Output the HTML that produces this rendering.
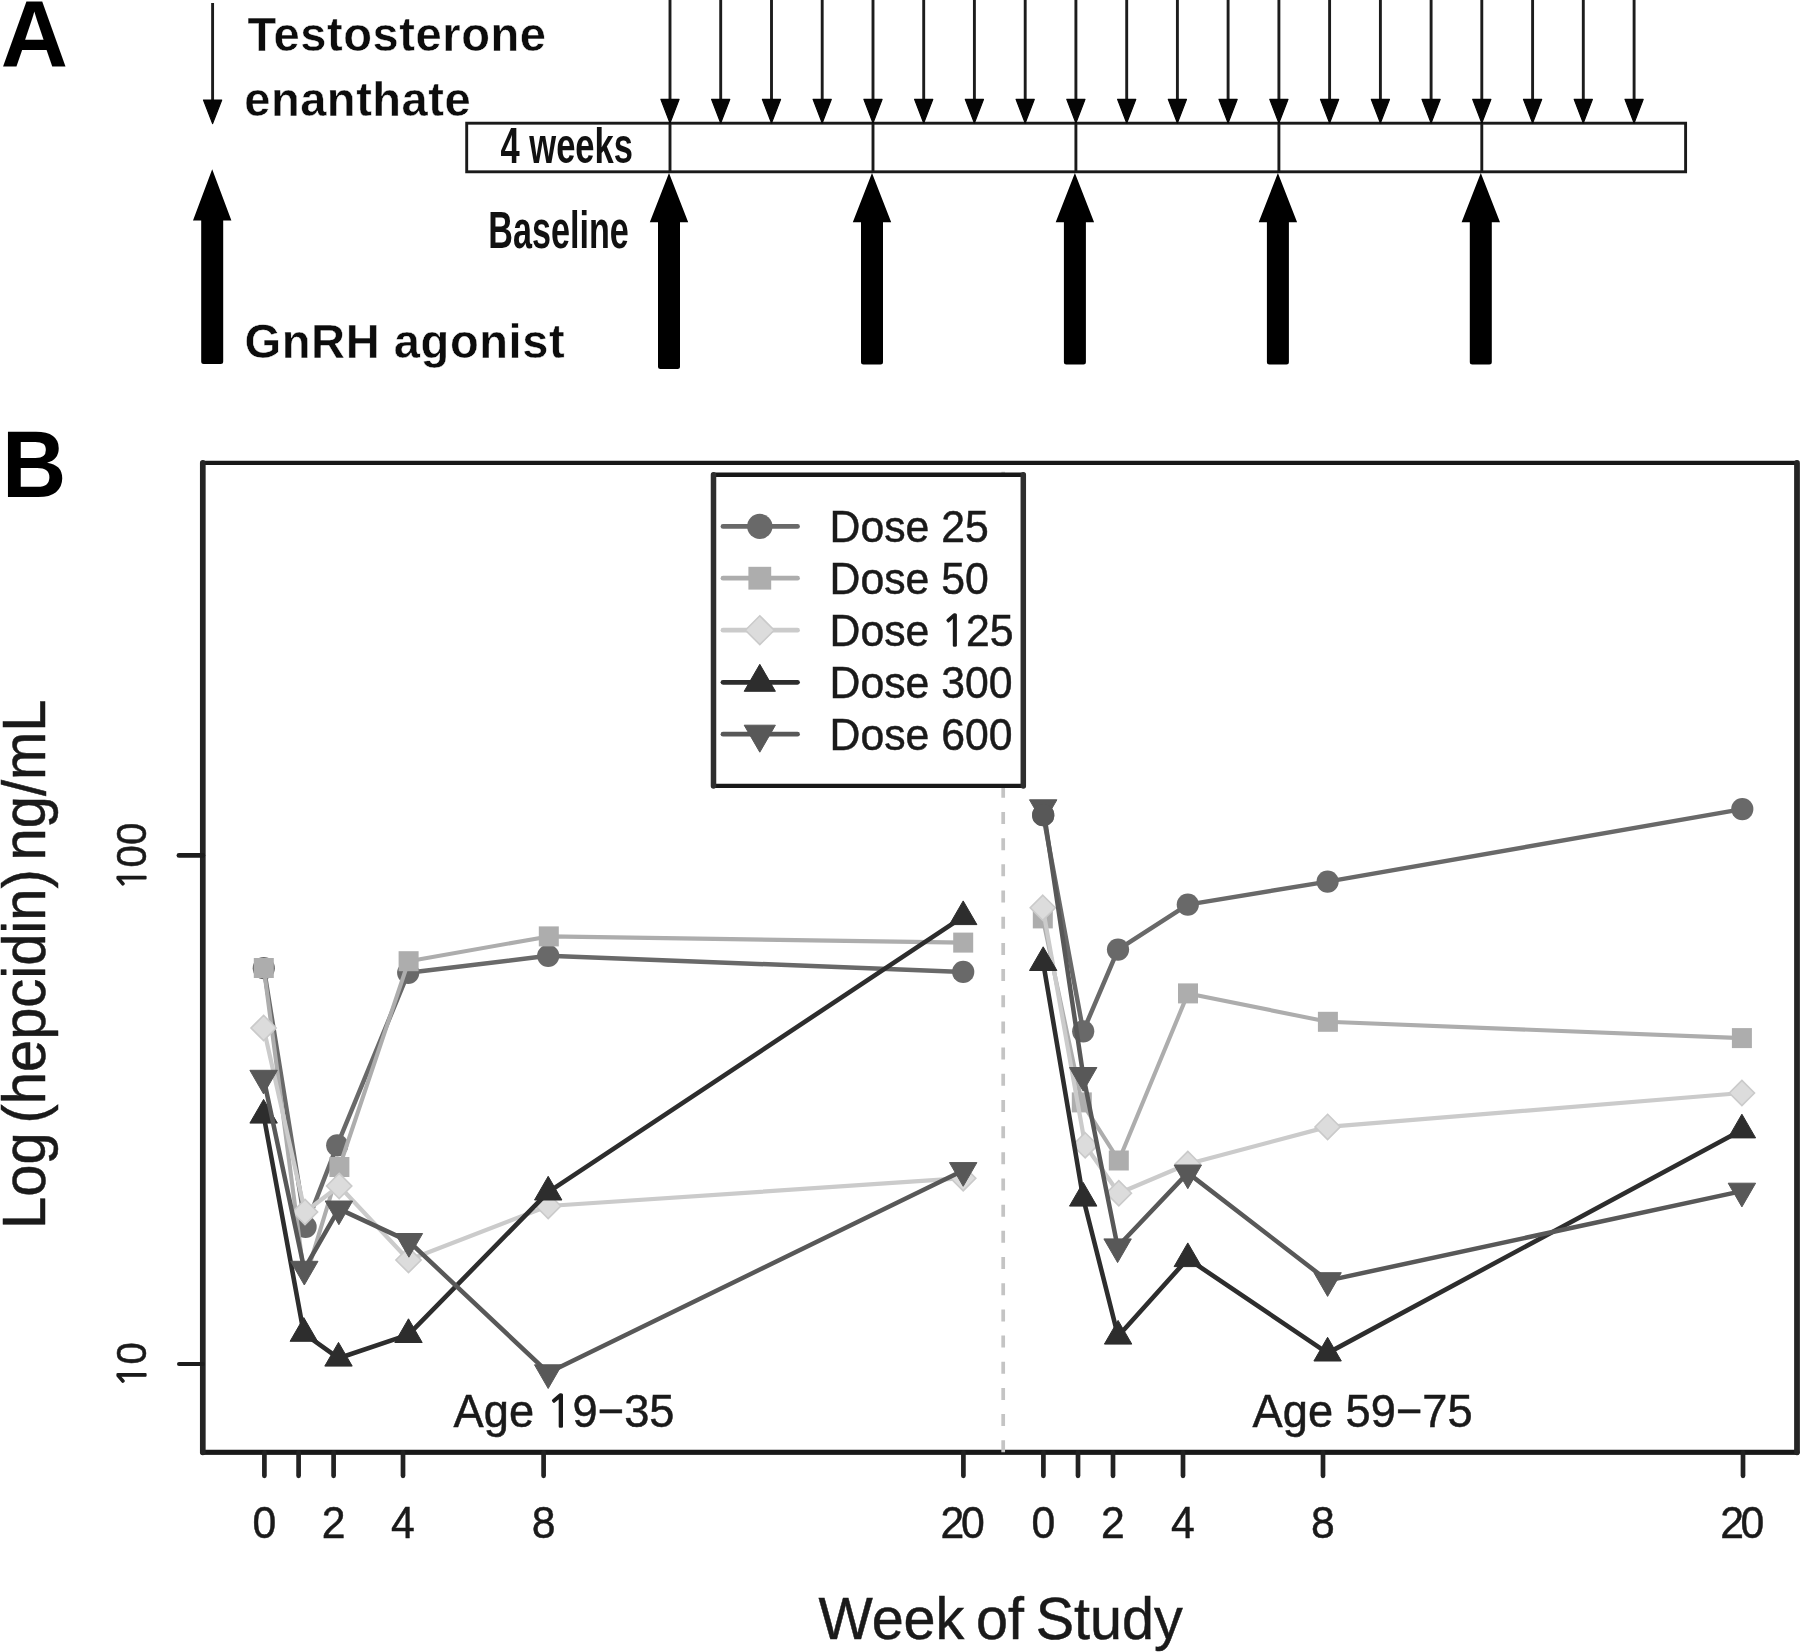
<!DOCTYPE html>
<html lang="en">
<head>
<meta charset="utf-8">
<title>Figure: study design and hepcidin by testosterone dose</title>
<style>
html,body{margin:0;padding:0;background:#fff;}
body{width:1800px;height:1652px;overflow:hidden;}
svg{display:block;filter:grayscale(1);}
</style>
</head>
<body>
<svg width="1800" height="1652" viewBox="0 0 1800 1652">
<rect width="1800" height="1652" fill="#fff"/>
<g id="panelA">
<rect x="466.7" y="123.2" width="1218.9" height="48.6" fill="#fff" stroke="#1a1a1a" stroke-width="2.9"/>
<line x1="670.0" y1="123.2" x2="670.0" y2="171.8" stroke="#1a1a1a" stroke-width="2.9"/>
<line x1="873.0" y1="123.2" x2="873.0" y2="171.8" stroke="#1a1a1a" stroke-width="2.9"/>
<line x1="1075.9" y1="123.2" x2="1075.9" y2="171.8" stroke="#1a1a1a" stroke-width="2.9"/>
<line x1="1278.9" y1="123.2" x2="1278.9" y2="171.8" stroke="#1a1a1a" stroke-width="2.9"/>
<line x1="1481.8" y1="123.2" x2="1481.8" y2="171.8" stroke="#1a1a1a" stroke-width="2.9"/>
<line x1="212.6" y1="3" x2="212.6" y2="102.0" stroke="#1c1c1c" stroke-width="2.9"/><polygon points="203.5,100.0 221.7,100.0 212.6,123.6" fill="#050505" stroke="#050505" stroke-width="1.2" stroke-linejoin="round"/>
<line x1="670.0" y1="0" x2="670.0" y2="101.4" stroke="#1c1c1c" stroke-width="2.9"/><polygon points="660.9,99.4 679.1,99.4 670.0,123.0" fill="#050505" stroke="#050505" stroke-width="1.2" stroke-linejoin="round"/>
<line x1="720.7" y1="0" x2="720.7" y2="101.4" stroke="#1c1c1c" stroke-width="2.9"/><polygon points="711.6,99.4 729.8,99.4 720.7,123.0" fill="#050505" stroke="#050505" stroke-width="1.2" stroke-linejoin="round"/>
<line x1="771.5" y1="0" x2="771.5" y2="101.4" stroke="#1c1c1c" stroke-width="2.9"/><polygon points="762.4,99.4 780.6,99.4 771.5,123.0" fill="#050505" stroke="#050505" stroke-width="1.2" stroke-linejoin="round"/>
<line x1="822.2" y1="0" x2="822.2" y2="101.4" stroke="#1c1c1c" stroke-width="2.9"/><polygon points="813.1,99.4 831.3,99.4 822.2,123.0" fill="#050505" stroke="#050505" stroke-width="1.2" stroke-linejoin="round"/>
<line x1="873.0" y1="0" x2="873.0" y2="101.4" stroke="#1c1c1c" stroke-width="2.9"/><polygon points="863.9,99.4 882.1,99.4 873.0,123.0" fill="#050505" stroke="#050505" stroke-width="1.2" stroke-linejoin="round"/>
<line x1="923.7" y1="0" x2="923.7" y2="101.4" stroke="#1c1c1c" stroke-width="2.9"/><polygon points="914.6,99.4 932.8,99.4 923.7,123.0" fill="#050505" stroke="#050505" stroke-width="1.2" stroke-linejoin="round"/>
<line x1="974.4" y1="0" x2="974.4" y2="101.4" stroke="#1c1c1c" stroke-width="2.9"/><polygon points="965.3,99.4 983.5,99.4 974.4,123.0" fill="#050505" stroke="#050505" stroke-width="1.2" stroke-linejoin="round"/>
<line x1="1025.2" y1="0" x2="1025.2" y2="101.4" stroke="#1c1c1c" stroke-width="2.9"/><polygon points="1016.1,99.4 1034.3,99.4 1025.2,123.0" fill="#050505" stroke="#050505" stroke-width="1.2" stroke-linejoin="round"/>
<line x1="1075.9" y1="0" x2="1075.9" y2="101.4" stroke="#1c1c1c" stroke-width="2.9"/><polygon points="1066.8,99.4 1085.0,99.4 1075.9,123.0" fill="#050505" stroke="#050505" stroke-width="1.2" stroke-linejoin="round"/>
<line x1="1126.7" y1="0" x2="1126.7" y2="101.4" stroke="#1c1c1c" stroke-width="2.9"/><polygon points="1117.6,99.4 1135.8,99.4 1126.7,123.0" fill="#050505" stroke="#050505" stroke-width="1.2" stroke-linejoin="round"/>
<line x1="1177.4" y1="0" x2="1177.4" y2="101.4" stroke="#1c1c1c" stroke-width="2.9"/><polygon points="1168.3,99.4 1186.5,99.4 1177.4,123.0" fill="#050505" stroke="#050505" stroke-width="1.2" stroke-linejoin="round"/>
<line x1="1228.1" y1="0" x2="1228.1" y2="101.4" stroke="#1c1c1c" stroke-width="2.9"/><polygon points="1219.0,99.4 1237.2,99.4 1228.1,123.0" fill="#050505" stroke="#050505" stroke-width="1.2" stroke-linejoin="round"/>
<line x1="1278.9" y1="0" x2="1278.9" y2="101.4" stroke="#1c1c1c" stroke-width="2.9"/><polygon points="1269.8,99.4 1288.0,99.4 1278.9,123.0" fill="#050505" stroke="#050505" stroke-width="1.2" stroke-linejoin="round"/>
<line x1="1329.6" y1="0" x2="1329.6" y2="101.4" stroke="#1c1c1c" stroke-width="2.9"/><polygon points="1320.5,99.4 1338.7,99.4 1329.6,123.0" fill="#050505" stroke="#050505" stroke-width="1.2" stroke-linejoin="round"/>
<line x1="1380.4" y1="0" x2="1380.4" y2="101.4" stroke="#1c1c1c" stroke-width="2.9"/><polygon points="1371.3,99.4 1389.5,99.4 1380.4,123.0" fill="#050505" stroke="#050505" stroke-width="1.2" stroke-linejoin="round"/>
<line x1="1431.1" y1="0" x2="1431.1" y2="101.4" stroke="#1c1c1c" stroke-width="2.9"/><polygon points="1422.0,99.4 1440.2,99.4 1431.1,123.0" fill="#050505" stroke="#050505" stroke-width="1.2" stroke-linejoin="round"/>
<line x1="1481.8" y1="0" x2="1481.8" y2="101.4" stroke="#1c1c1c" stroke-width="2.9"/><polygon points="1472.7,99.4 1490.9,99.4 1481.8,123.0" fill="#050505" stroke="#050505" stroke-width="1.2" stroke-linejoin="round"/>
<line x1="1532.6" y1="0" x2="1532.6" y2="101.4" stroke="#1c1c1c" stroke-width="2.9"/><polygon points="1523.5,99.4 1541.7,99.4 1532.6,123.0" fill="#050505" stroke="#050505" stroke-width="1.2" stroke-linejoin="round"/>
<line x1="1583.3" y1="0" x2="1583.3" y2="101.4" stroke="#1c1c1c" stroke-width="2.9"/><polygon points="1574.2,99.4 1592.4,99.4 1583.3,123.0" fill="#050505" stroke="#050505" stroke-width="1.2" stroke-linejoin="round"/>
<line x1="1634.1" y1="0" x2="1634.1" y2="101.4" stroke="#1c1c1c" stroke-width="2.9"/><polygon points="1625.0,99.4 1643.2,99.4 1634.1,123.0" fill="#050505" stroke="#050505" stroke-width="1.2" stroke-linejoin="round"/>
<path d="M212.2,169.3 L231.4,220.5 L223.2,220.5 L223.2,361.5 Q223.2,364.0 220.7,364.0 L203.7,364.0 Q201.2,364.0 201.2,361.5 L201.2,220.5 L193.0,220.5 Z" fill="#000"/>
<path d="M669.0,173.0 L688.2,222.3 L680.0,222.3 L680.0,366.5 Q680.0,369.0 677.5,369.0 L660.5,369.0 Q658.0,369.0 658.0,366.5 L658.0,222.3 L649.8,222.3 Z" fill="#000"/>
<path d="M872.0,173.0 L891.2,222.3 L883.0,222.3 L883.0,362.0 Q883.0,364.5 880.5,364.5 L863.5,364.5 Q861.0,364.5 861.0,362.0 L861.0,222.3 L852.8,222.3 Z" fill="#000"/>
<path d="M1074.9,173.0 L1094.1,222.3 L1085.9,222.3 L1085.9,362.0 Q1085.9,364.5 1083.4,364.5 L1066.4,364.5 Q1063.9,364.5 1063.9,362.0 L1063.9,222.3 L1055.7,222.3 Z" fill="#000"/>
<path d="M1277.9,173.0 L1297.1,222.3 L1288.9,222.3 L1288.9,362.0 Q1288.9,364.5 1286.4,364.5 L1269.4,364.5 Q1266.9,364.5 1266.9,362.0 L1266.9,222.3 L1258.7,222.3 Z" fill="#000"/>
<path d="M1480.8,173.0 L1500.0,222.3 L1491.8,222.3 L1491.8,362.0 Q1491.8,364.5 1489.3,364.5 L1472.3,364.5 Q1469.8,364.5 1469.8,362.0 L1469.8,222.3 L1461.6,222.3 Z" fill="#000"/>
</g>
<g id="panelB">
<polyline points="263.8,968.2 305.6,1226.8 337.2,1145.3 408.2,972.8 548.2,955.8 963.2,971.9" fill="none" stroke="#696969" stroke-width="4.5" stroke-linejoin="round" stroke-linecap="round"/>
<circle cx="263.8" cy="968.2" r="11.10" fill="#696969"/>
<circle cx="305.6" cy="1226.8" r="11.10" fill="#696969"/>
<circle cx="337.2" cy="1145.3" r="11.10" fill="#696969"/>
<circle cx="408.2" cy="972.8" r="11.10" fill="#696969"/>
<circle cx="548.2" cy="955.8" r="11.10" fill="#696969"/>
<circle cx="963.2" cy="971.9" r="11.10" fill="#696969"/>
<polyline points="1043.2,815.2 1083.2,1031.3 1118.0,949.6 1187.8,904.6 1327.6,881.6 1742.3,809.1" fill="none" stroke="#696969" stroke-width="4.5" stroke-linejoin="round" stroke-linecap="round"/>
<circle cx="1043.2" cy="815.2" r="11.10" fill="#696969"/>
<circle cx="1083.2" cy="1031.3" r="11.10" fill="#696969"/>
<circle cx="1118.0" cy="949.6" r="11.10" fill="#696969"/>
<circle cx="1187.8" cy="904.6" r="11.10" fill="#696969"/>
<circle cx="1327.6" cy="881.6" r="11.10" fill="#696969"/>
<circle cx="1742.3" cy="809.1" r="11.10" fill="#696969"/>
<polyline points="263.8,968.0 304.8,1280.5 339.4,1167.0 408.6,961.2 548.8,936.4 963.2,942.6" fill="none" stroke="#adadad" stroke-width="4.1" stroke-linejoin="round" stroke-linecap="round"/>
<rect x="253.8" y="958.0" width="20.0" height="20.0" fill="#adadad"/>
<rect x="329.4" y="1157.0" width="20.0" height="20.0" fill="#adadad"/>
<rect x="398.6" y="951.2" width="20.0" height="20.0" fill="#adadad"/>
<rect x="538.8" y="926.4" width="20.0" height="20.0" fill="#adadad"/>
<rect x="953.2" y="932.6" width="20.0" height="20.0" fill="#adadad"/>
<polyline points="1042.8,918.4 1081.8,1102.4 1118.8,1160.5 1188.0,993.4 1327.9,1021.8 1741.9,1038.1" fill="none" stroke="#adadad" stroke-width="4.1" stroke-linejoin="round" stroke-linecap="round"/>
<rect x="1032.8" y="908.4" width="20.0" height="20.0" fill="#adadad"/>
<rect x="1071.8" y="1092.4" width="20.0" height="20.0" fill="#adadad"/>
<rect x="1108.8" y="1150.5" width="20.0" height="20.0" fill="#adadad"/>
<rect x="1178.0" y="983.4" width="20.0" height="20.0" fill="#adadad"/>
<rect x="1317.9" y="1011.8" width="20.0" height="20.0" fill="#adadad"/>
<rect x="1731.9" y="1028.1" width="20.0" height="20.0" fill="#adadad"/>
<polyline points="263.6,1028.0 305.0,1212.0 339.2,1186.0 408.5,1260.0 548.2,1206.0 963.2,1178.2" fill="none" stroke="#cbcbcb" stroke-width="4.2" stroke-linejoin="round" stroke-linecap="round"/>
<polygon points="263.6,1015.4 276.2,1028.0 263.6,1040.6 251.0,1028.0" fill="#dcdcdc" stroke="#cacaca" stroke-width="1.6"/>
<polygon points="305.0,1199.4 317.6,1212.0 305.0,1224.6 292.4,1212.0" fill="#dcdcdc" stroke="#cacaca" stroke-width="1.6"/>
<polygon points="339.2,1173.4 351.8,1186.0 339.2,1198.6 326.6,1186.0" fill="#dcdcdc" stroke="#cacaca" stroke-width="1.6"/>
<polygon points="408.5,1247.4 421.1,1260.0 408.5,1272.6 395.9,1260.0" fill="#dcdcdc" stroke="#cacaca" stroke-width="1.6"/>
<polygon points="548.2,1193.4 560.8,1206.0 548.2,1218.6 535.6,1206.0" fill="#dcdcdc" stroke="#cacaca" stroke-width="1.6"/>
<polygon points="963.2,1165.6 975.8,1178.2 963.2,1190.8 950.6,1178.2" fill="#dcdcdc" stroke="#cacaca" stroke-width="1.6"/>
<polyline points="1042.8,907.8 1085.2,1145.3 1118.8,1193.2 1187.8,1164.0 1327.6,1126.9 1741.9,1093.0" fill="none" stroke="#cbcbcb" stroke-width="4.2" stroke-linejoin="round" stroke-linecap="round"/>
<polygon points="1042.8,895.2 1055.4,907.8 1042.8,920.4 1030.2,907.8" fill="#dcdcdc" stroke="#cacaca" stroke-width="1.6"/>
<polygon points="1085.2,1132.7 1097.8,1145.3 1085.2,1157.9 1072.6,1145.3" fill="#dcdcdc" stroke="#cacaca" stroke-width="1.6"/>
<polygon points="1118.8,1180.6 1131.4,1193.2 1118.8,1205.8 1106.2,1193.2" fill="#dcdcdc" stroke="#cacaca" stroke-width="1.6"/>
<polygon points="1187.8,1151.4 1200.4,1164.0 1187.8,1176.6 1175.2,1164.0" fill="#dcdcdc" stroke="#cacaca" stroke-width="1.6"/>
<polygon points="1327.6,1114.3 1340.2,1126.9 1327.6,1139.5 1315.0,1126.9" fill="#dcdcdc" stroke="#cacaca" stroke-width="1.6"/>
<polygon points="1741.9,1080.4 1754.5,1093.0 1741.9,1105.6 1729.3,1093.0" fill="#dcdcdc" stroke="#cacaca" stroke-width="1.6"/>
<polyline points="263.6,1115.2 303.8,1333.4 338.5,1358.2 408.5,1334.6 548.2,1192.1 963.2,916.7" fill="none" stroke="#2d2d2d" stroke-width="4.6" stroke-linejoin="round" stroke-linecap="round"/>
<polygon points="263.6,1099.4 277.3,1123.1 249.9,1123.1" fill="#2d2d2d" stroke="#2d2d2d" stroke-width="1" stroke-linejoin="round"/>
<polygon points="303.8,1317.6 317.5,1341.3 290.1,1341.3" fill="#2d2d2d" stroke="#2d2d2d" stroke-width="1" stroke-linejoin="round"/>
<polygon points="338.5,1342.4 352.2,1366.1 324.8,1366.1" fill="#2d2d2d" stroke="#2d2d2d" stroke-width="1" stroke-linejoin="round"/>
<polygon points="408.5,1318.8 422.2,1342.5 394.8,1342.5" fill="#2d2d2d" stroke="#2d2d2d" stroke-width="1" stroke-linejoin="round"/>
<polygon points="548.2,1176.3 561.9,1200.0 534.5,1200.0" fill="#2d2d2d" stroke="#2d2d2d" stroke-width="1" stroke-linejoin="round"/>
<polygon points="963.2,900.9 976.9,924.6 949.5,924.6" fill="#2d2d2d" stroke="#2d2d2d" stroke-width="1" stroke-linejoin="round"/>
<polyline points="1043.2,962.6 1083.2,1198.2 1118.1,1336.2 1187.8,1258.7 1327.6,1353.1 1741.9,1130.0" fill="none" stroke="#2d2d2d" stroke-width="4.6" stroke-linejoin="round" stroke-linecap="round"/>
<polygon points="1043.2,946.8 1056.9,970.5 1029.5,970.5" fill="#2d2d2d" stroke="#2d2d2d" stroke-width="1" stroke-linejoin="round"/>
<polygon points="1083.2,1182.4 1096.9,1206.1 1069.5,1206.1" fill="#2d2d2d" stroke="#2d2d2d" stroke-width="1" stroke-linejoin="round"/>
<polygon points="1118.1,1320.4 1131.8,1344.1 1104.4,1344.1" fill="#2d2d2d" stroke="#2d2d2d" stroke-width="1" stroke-linejoin="round"/>
<polygon points="1187.8,1242.9 1201.5,1266.6 1174.1,1266.6" fill="#2d2d2d" stroke="#2d2d2d" stroke-width="1" stroke-linejoin="round"/>
<polygon points="1327.6,1337.3 1341.3,1361.0 1313.9,1361.0" fill="#2d2d2d" stroke="#2d2d2d" stroke-width="1" stroke-linejoin="round"/>
<polygon points="1741.9,1114.2 1755.6,1137.9 1728.2,1137.9" fill="#2d2d2d" stroke="#2d2d2d" stroke-width="1" stroke-linejoin="round"/>
<polyline points="263.6,1078.2 304.3,1269.2 338.9,1208.9 408.9,1241.4 548.2,1372.7 963.2,1170.5" fill="none" stroke="#585858" stroke-width="4.5" stroke-linejoin="round" stroke-linecap="round"/>
<polygon points="263.6,1094.0 277.3,1070.3 249.9,1070.3" fill="#585858" stroke="#585858" stroke-width="1" stroke-linejoin="round"/>
<polygon points="304.3,1285.0 318.0,1261.3 290.6,1261.3" fill="#585858" stroke="#585858" stroke-width="1" stroke-linejoin="round"/>
<polygon points="338.9,1224.7 352.6,1201.0 325.2,1201.0" fill="#585858" stroke="#585858" stroke-width="1" stroke-linejoin="round"/>
<polygon points="408.9,1257.2 422.6,1233.5 395.2,1233.5" fill="#585858" stroke="#585858" stroke-width="1" stroke-linejoin="round"/>
<polygon points="548.2,1388.5 561.9,1364.8 534.5,1364.8" fill="#585858" stroke="#585858" stroke-width="1" stroke-linejoin="round"/>
<polygon points="963.2,1186.3 976.9,1162.6 949.5,1162.6" fill="#585858" stroke="#585858" stroke-width="1" stroke-linejoin="round"/>
<polyline points="1043.2,807.7 1083.2,1075.4 1117.6,1246.8 1187.8,1172.9 1327.6,1280.6 1741.9,1191.1" fill="none" stroke="#585858" stroke-width="4.5" stroke-linejoin="round" stroke-linecap="round"/>
<polygon points="1043.2,823.5 1056.9,799.8 1029.5,799.8" fill="#585858" stroke="#585858" stroke-width="1" stroke-linejoin="round"/>
<polygon points="1083.2,1091.2 1096.9,1067.5 1069.5,1067.5" fill="#585858" stroke="#585858" stroke-width="1" stroke-linejoin="round"/>
<polygon points="1117.6,1262.6 1131.3,1238.9 1103.9,1238.9" fill="#585858" stroke="#585858" stroke-width="1" stroke-linejoin="round"/>
<polygon points="1187.8,1188.7 1201.5,1165.0 1174.1,1165.0" fill="#585858" stroke="#585858" stroke-width="1" stroke-linejoin="round"/>
<polygon points="1327.6,1296.4 1341.3,1272.7 1313.9,1272.7" fill="#585858" stroke="#585858" stroke-width="1" stroke-linejoin="round"/>
<polygon points="1741.9,1206.9 1755.6,1183.2 1728.2,1183.2" fill="#585858" stroke="#585858" stroke-width="1" stroke-linejoin="round"/>
<circle cx="1043.2" cy="815.2" r="11.1" fill="#585858"/>
<rect x="202.8" y="462.9" width="1594.2" height="989.4" fill="none" stroke="#181818" stroke-width="4.4" stroke-linejoin="round"/>
<line x1="202.8" y1="1452.3" x2="1797.0" y2="1452.3" stroke="#181818" stroke-width="5.1" stroke-linecap="round"/>
<line x1="202.8" y1="462.9" x2="202.8" y2="1452.3" stroke="#242424" stroke-width="5.7" stroke-linecap="round"/>
<line x1="1797.0" y1="462.9" x2="1797.0" y2="1452.3" stroke="#242424" stroke-width="5.7" stroke-linecap="round"/>
<line x1="1003.2" y1="1452.3" x2="1003.2" y2="465.9" stroke="#c4c4c4" stroke-width="3.7" stroke-dasharray="12 14.18"/>
<line x1="264.4" y1="1452.3" x2="264.4" y2="1475.8" stroke="#222" stroke-width="4.7" stroke-linecap="round"/>
<line x1="298.6" y1="1452.3" x2="298.6" y2="1475.8" stroke="#222" stroke-width="4.7" stroke-linecap="round"/>
<line x1="333.6" y1="1452.3" x2="333.6" y2="1475.8" stroke="#222" stroke-width="4.7" stroke-linecap="round"/>
<line x1="403.0" y1="1452.3" x2="403.0" y2="1475.8" stroke="#222" stroke-width="4.7" stroke-linecap="round"/>
<line x1="543.6" y1="1452.3" x2="543.6" y2="1475.8" stroke="#222" stroke-width="4.7" stroke-linecap="round"/>
<line x1="963.4" y1="1452.3" x2="963.4" y2="1475.8" stroke="#222" stroke-width="4.7" stroke-linecap="round"/>
<line x1="1043.4" y1="1452.3" x2="1043.4" y2="1475.8" stroke="#222" stroke-width="4.7" stroke-linecap="round"/>
<line x1="1078.0" y1="1452.3" x2="1078.0" y2="1475.8" stroke="#222" stroke-width="4.7" stroke-linecap="round"/>
<line x1="1113.0" y1="1452.3" x2="1113.0" y2="1475.8" stroke="#222" stroke-width="4.7" stroke-linecap="round"/>
<line x1="1183.0" y1="1452.3" x2="1183.0" y2="1475.8" stroke="#222" stroke-width="4.7" stroke-linecap="round"/>
<line x1="1323.0" y1="1452.3" x2="1323.0" y2="1475.8" stroke="#222" stroke-width="4.7" stroke-linecap="round"/>
<line x1="1743.0" y1="1452.3" x2="1743.0" y2="1475.8" stroke="#222" stroke-width="4.7" stroke-linecap="round"/>
<line x1="179.0" y1="855.4" x2="202.8" y2="855.4" stroke="#1c1c1c" stroke-width="4.9" stroke-linecap="round"/>
<line x1="179.0" y1="1364.0" x2="202.8" y2="1364.0" stroke="#1c1c1c" stroke-width="4.0" stroke-linecap="round"/>
<rect x="713.5" y="474.8" width="309.8" height="311.1" fill="#fff" stroke="#181818" stroke-width="4.4" stroke-linejoin="round"/>
<line x1="713.5" y1="474.8" x2="713.5" y2="785.9" stroke="#2e2e2e" stroke-width="5.5" stroke-linecap="round"/>
<line x1="1023.3" y1="474.8" x2="1023.3" y2="785.9" stroke="#2e2e2e" stroke-width="5.5" stroke-linecap="round"/>
<line x1="723.0" y1="526.4" x2="797.5" y2="526.4" stroke="#696969" stroke-width="4.8" stroke-linecap="round"/>
<circle cx="759.8" cy="526.4" r="12.65" fill="#696969"/>
<line x1="723.0" y1="578.2" x2="797.5" y2="578.2" stroke="#adadad" stroke-width="4.8" stroke-linecap="round"/>
<rect x="748.4" y="566.8" width="22.8" height="22.8" fill="#adadad"/>
<line x1="723.0" y1="630.2" x2="797.5" y2="630.2" stroke="#cbcbcb" stroke-width="4.8" stroke-linecap="round"/>
<polygon points="759.8,615.8 774.2,630.2 759.8,644.6 745.4,630.2" fill="#dcdcdc" stroke="#cacaca" stroke-width="1.6"/>
<line x1="723.0" y1="682.3" x2="797.5" y2="682.3" stroke="#2d2d2d" stroke-width="4.8" stroke-linecap="round"/>
<polygon points="759.8,664.3 775.4,691.3 744.2,691.3" fill="#2d2d2d" stroke="#2d2d2d" stroke-width="1" stroke-linejoin="round"/>
<line x1="723.0" y1="734.2" x2="797.5" y2="734.2" stroke="#585858" stroke-width="4.8" stroke-linecap="round"/>
<polygon points="759.8,752.2 775.4,725.2 744.2,725.2" fill="#585858" stroke="#585858" stroke-width="1" stroke-linejoin="round"/>
</g>
<g style="font-family:'Liberation Sans',Arial,Helvetica,sans-serif" fill="#000">
<text transform="translate(0.8,66.7) scale(0.99,1)" font-size="94" font-weight="700">A</text>
<text transform="translate(1.9,496.6) scale(0.947,1)" font-size="94" font-weight="700">B</text>
<text transform="translate(247.6,50.6) scale(0.965,1)" font-size="48.8" font-weight="700" textLength="309.3" lengthAdjust="spacing" fill="#0c0c0c" stroke="#fff" stroke-width="0.45">Testosterone</text>
<text transform="translate(244.2,115.6) scale(0.965,1)" font-size="48.8" font-weight="700" textLength="234.7" lengthAdjust="spacing" fill="#0c0c0c" stroke="#fff" stroke-width="0.45">enanthate</text>
<text transform="translate(244.6,358.1) scale(0.965,1)" font-size="48.8" font-weight="700" textLength="331.6" lengthAdjust="spacing" fill="#0c0c0c" stroke="#fff" stroke-width="0.45">GnRH agonist</text>
<text x="500.5" y="163.3" font-size="49.5" font-weight="700" textLength="132.5" lengthAdjust="spacingAndGlyphs" fill="#111">4 weeks</text>
<text x="488.3" y="247.7" font-size="51" font-weight="700" textLength="140.5" lengthAdjust="spacingAndGlyphs" fill="#111">Baseline</text>
<text transform="translate(829.6,541.8) scale(0.952,1)" font-size="44.9" fill="#1a1a1a" stroke="#1a1a1a" stroke-width="0.5">Dose 25</text>
<text transform="translate(829.6,593.6) scale(0.952,1)" font-size="44.9" fill="#1a1a1a" stroke="#1a1a1a" stroke-width="0.5">Dose 50</text>
<text transform="translate(829.6,645.6) scale(0.952,1)" font-size="44.9" fill="#1a1a1a" stroke="#1a1a1a" stroke-width="0.5">Dose <tspan font-family="NanumGothic,'Liberation Sans',sans-serif" font-size="42.7" stroke-width="1.35">1</tspan>25</text>
<text transform="translate(829.6,697.7) scale(0.952,1)" font-size="44.9" fill="#1a1a1a" stroke="#1a1a1a" stroke-width="0.5">Dose 300</text>
<text transform="translate(829.6,749.6) scale(0.952,1)" font-size="44.9" fill="#1a1a1a" stroke="#1a1a1a" stroke-width="0.5">Dose 600</text>
<text transform="translate(264.4,1538.0) scale(0.952,1)" font-size="44.9" text-anchor="middle" fill="#1a1a1a" stroke="#1a1a1a" stroke-width="0.5">0</text>
<text transform="translate(333.6,1538.0) scale(0.952,1)" font-size="44.9" text-anchor="middle" fill="#1a1a1a" stroke="#1a1a1a" stroke-width="0.5">2</text>
<text transform="translate(403.0,1538.0) scale(0.952,1)" font-size="44.9" text-anchor="middle" fill="#1a1a1a" stroke="#1a1a1a" stroke-width="0.5">4</text>
<text transform="translate(543.6,1538.0) scale(0.952,1)" font-size="44.9" text-anchor="middle" fill="#1a1a1a" stroke="#1a1a1a" stroke-width="0.5">8</text>
<text transform="translate(960.9,1538.0) scale(0.952,1)" font-size="44.9" text-anchor="middle" letter-spacing="-3.6" fill="#1a1a1a" stroke="#1a1a1a" stroke-width="0.5">20</text>
<text transform="translate(1043.4,1538.0) scale(0.952,1)" font-size="44.9" text-anchor="middle" fill="#1a1a1a" stroke="#1a1a1a" stroke-width="0.5">0</text>
<text transform="translate(1113.0,1538.0) scale(0.952,1)" font-size="44.9" text-anchor="middle" fill="#1a1a1a" stroke="#1a1a1a" stroke-width="0.5">2</text>
<text transform="translate(1183.0,1538.0) scale(0.952,1)" font-size="44.9" text-anchor="middle" fill="#1a1a1a" stroke="#1a1a1a" stroke-width="0.5">4</text>
<text transform="translate(1323.0,1538.0) scale(0.952,1)" font-size="44.9" text-anchor="middle" fill="#1a1a1a" stroke="#1a1a1a" stroke-width="0.5">8</text>
<text transform="translate(1740.5,1538.0) scale(0.952,1)" font-size="44.9" text-anchor="middle" letter-spacing="-3.6" fill="#1a1a1a" stroke="#1a1a1a" stroke-width="0.5">20</text>
<text transform="translate(146.3,856.6) rotate(-90) scale(0.96,1)" font-size="42" text-anchor="middle" fill="#1a1a1a" stroke="#1a1a1a" stroke-width="0.5"><tspan font-family="NanumGothic,'Liberation Sans',sans-serif" font-size="39.9" stroke-width="1.26">1</tspan>00</text>
<text transform="translate(146.3,1364.9) rotate(-90) scale(0.96,1)" font-size="42" text-anchor="middle" fill="#1a1a1a" stroke="#1a1a1a" stroke-width="0.5"><tspan font-family="NanumGothic,'Liberation Sans',sans-serif" font-size="39.9" stroke-width="1.26">1</tspan>0</text>
<text transform="translate(453.6,1427.0) scale(0.962,1)" font-size="47" fill="#1a1a1a" stroke="#1a1a1a" stroke-width="0.5">Age <tspan font-family="NanumGothic,'Liberation Sans',sans-serif" font-size="44.6" stroke-width="1.41">1</tspan>9−35</text>
<text transform="translate(1252.6,1427.0) scale(0.962,1)" font-size="47" fill="#1a1a1a" stroke="#1a1a1a" stroke-width="0.5">Age 59−75</text>
<text transform="translate(818.4,1639.4) scale(0.975,1)" font-size="59" style="word-spacing:-4.4px" fill="#1a1a1a" stroke="#1a1a1a" stroke-width="0.5">Week of Study</text>
<text transform="translate(45.0,1229.0) rotate(-90) scale(0.957,1)" font-size="60.5" style="word-spacing:-7.5px" fill="#1a1a1a" stroke="#1a1a1a" stroke-width="0.5">Log (hepcidin) ng/mL</text>
</g>
</svg>
</body>
</html>
